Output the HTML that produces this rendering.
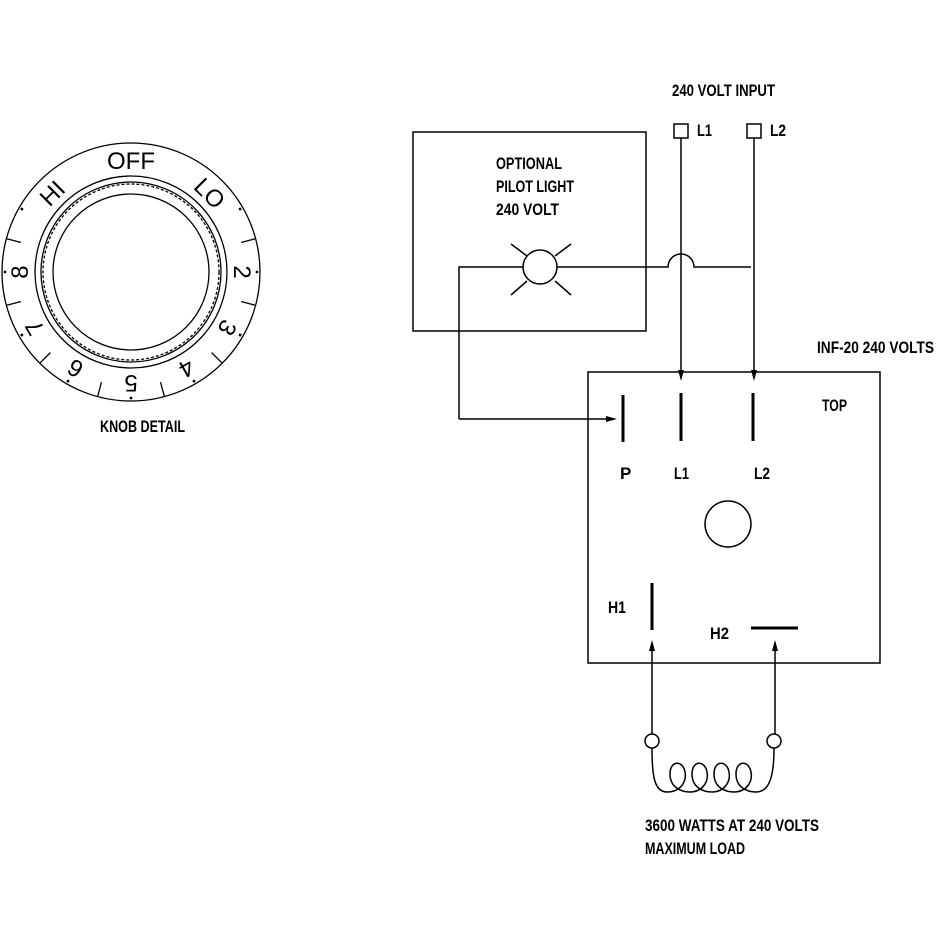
<!DOCTYPE html>
<html><head><style>
html,body{margin:0;padding:0;background:#fff}
svg{display:block}
.t{font-family:"Liberation Sans Narrow","Liberation Sans",sans-serif;font-weight:bold;font-size:17px;fill:#000}
.k{font-family:"Liberation Sans",sans-serif;font-size:24px;fill:#000}
</style></head><body>
<svg width="952" height="952" viewBox="0 0 952 952" xmlns="http://www.w3.org/2000/svg">
<g fill="none" stroke="#000" stroke-width="1.3">
 <circle cx="131" cy="272" r="129"/>
 <circle cx="131" cy="272" r="96"/>
 <circle cx="131" cy="272" r="88" stroke-dasharray="3 2" />
 <circle cx="131" cy="272" r="90"/>
 <circle cx="131" cy="272" r="78"/>
</g>
<g stroke="#000" stroke-width="1.3">
 <line x1="131" y1="143" x2="131" y2="158" transform="rotate(75 131 272)"/>
 <line x1="131" y1="143" x2="131" y2="158" transform="rotate(105 131 272)"/>
 <line x1="131" y1="143" x2="131" y2="158" transform="rotate(135 131 272)"/>
 <line x1="131" y1="143" x2="131" y2="158" transform="rotate(165 131 272)"/>
 <line x1="131" y1="143" x2="131" y2="158" transform="rotate(195 131 272)"/>
 <line x1="131" y1="143" x2="131" y2="158" transform="rotate(225 131 272)"/>
 <line x1="131" y1="143" x2="131" y2="158" transform="rotate(255 131 272)"/>
 <line x1="131" y1="143" x2="131" y2="158" transform="rotate(285 131 272)"/>
</g>
<g class="k" text-anchor="middle">
 <text x="131" y="169">OFF</text>
 <text x="131" y="169" transform="rotate(45 131 272)">LO</text>
 <text x="131" y="169" transform="rotate(90 131 272)">2</text>
 <text x="131" y="169" transform="rotate(120 131 272)">3</text>
 <text x="131" y="169" transform="rotate(150 131 272)">4</text>
 <text x="131" y="169" transform="rotate(180 131 272)">5</text>
 <text x="131" y="169" transform="rotate(210 131 272)">6</text>
 <text x="131" y="169" transform="rotate(240 131 272)">7</text>
 <text x="131" y="169" transform="rotate(270 131 272)">8</text>
 <text x="131" y="169" transform="rotate(-45 131 272)">HI</text>
</g>
<g fill="#000">
 <circle cx="131" cy="146" r="1.4" transform="rotate(60 131 272)"/>
 <circle cx="131" cy="146" r="1.4" transform="rotate(90 131 272)"/>
 <circle cx="131" cy="146" r="1.4" transform="rotate(120 131 272)"/>
 <circle cx="131" cy="146" r="1.4" transform="rotate(150 131 272)"/>
 <circle cx="131" cy="146" r="1.4" transform="rotate(180 131 272)"/>
 <circle cx="131" cy="146" r="1.4" transform="rotate(210 131 272)"/>
 <circle cx="131" cy="146" r="1.4" transform="rotate(240 131 272)"/>
 <circle cx="131" cy="146" r="1.4" transform="rotate(270 131 272)"/>
 <circle cx="131" cy="146" r="1.4" transform="rotate(300 131 272)"/>
</g>
<text class="t" x="100" y="432" textLength="85" lengthAdjust="spacingAndGlyphs">KNOB DETAIL</text>

<g fill="none" stroke="#000" stroke-width="1.5">
 <rect x="413" y="132" width="233" height="199"/>
 <rect x="588" y="372" width="292" height="291"/>
 <rect x="674" y="124" width="14" height="14"/>
 <rect x="747" y="124" width="14" height="14"/>
 <circle cx="540" cy="267" r="17"/>
 <line x1="511" y1="244" x2="527" y2="256"/><line x1="571" y1="244" x2="555" y2="256"/>
 <line x1="511" y1="295" x2="527" y2="281"/><line x1="571" y1="295" x2="555" y2="281"/>
 <path d="M459 419 V267 H523 M557 267 H668 A13 13 0 0 1 694 267 H751"/>
 <path d="M459 419 H612"/>
 <path d="M681 138 V372"/><path d="M754 138 V372"/>
 <circle cx="728" cy="524" r="23"/>
 <path d="M652 734 V645"/><path d="M775 734 V645"/>
 <circle cx="652" cy="741" r="7"/><circle cx="774" cy="741" r="7"/>
 <path d="M652 748 C652 775 654 792 667 792 C680 792 687 782 685 772 C683 760 670 760 670 774 C670 788 682 792 690 792 C702 792 709 782 707 772 C705 760 692 760 692 774 C692 788 704 792 712 792 C724 792 731 782 729 772 C727 760 714 760 714 774 C714 788 726 792 734 792 C746 792 753 782 751 772 C749 760 736 760 736 774 C736 788 748 792 756 792 C770 792 774 775 774 748"/>
</g>
<g fill="#000">
 <path d="M617 419 L606 416 L606 422 Z"/>
 <path d="M681 381 L678 370 L684 370 Z"/>
 <path d="M754 381 L751 370 L757 370 Z"/>
 <path d="M652 640 L649 651 L655 651 Z"/>
 <path d="M775 640 L772 651 L778 651 Z"/>
</g>
<g stroke="#000" stroke-width="3">
 <line x1="623" y1="395" x2="623" y2="442"/>
 <line x1="681" y1="393" x2="681" y2="441"/>
 <line x1="753" y1="393" x2="753" y2="441"/>
 <line x1="652" y1="583" x2="652" y2="630"/>
 <line x1="751" y1="628" x2="798" y2="628"/>
</g>
<g class="t">
 <text x="672" y="96" textLength="103" lengthAdjust="spacingAndGlyphs">240 VOLT INPUT</text>
 <text x="697" y="136" textLength="15" lengthAdjust="spacingAndGlyphs">L1</text>
 <text x="770" y="136" textLength="16" lengthAdjust="spacingAndGlyphs">L2</text>
 <text x="496" y="169" textLength="66" lengthAdjust="spacingAndGlyphs">OPTIONAL</text>
 <text x="496" y="192" textLength="78" lengthAdjust="spacingAndGlyphs">PILOT LIGHT</text>
 <text x="496" y="215" textLength="63" lengthAdjust="spacingAndGlyphs">240 VOLT</text>
 <text x="817" y="353" textLength="117" lengthAdjust="spacingAndGlyphs">INF-20 240 VOLTS</text>
 <text x="822" y="411" textLength="25" lengthAdjust="spacingAndGlyphs">TOP</text>
 <text x="620" y="479">P</text>
 <text x="674" y="479" textLength="15" lengthAdjust="spacingAndGlyphs">L1</text>
 <text x="754" y="479" textLength="16" lengthAdjust="spacingAndGlyphs">L2</text>
 <text x="608" y="613" textLength="18" lengthAdjust="spacingAndGlyphs">H1</text>
 <text x="710" y="639" textLength="19" lengthAdjust="spacingAndGlyphs">H2</text>
 <text x="645" y="831" textLength="174" lengthAdjust="spacingAndGlyphs">3600 WATTS AT 240 VOLTS</text>
 <text x="645" y="854" textLength="100" lengthAdjust="spacingAndGlyphs">MAXIMUM LOAD</text>
</g>
</svg>
</body></html>
